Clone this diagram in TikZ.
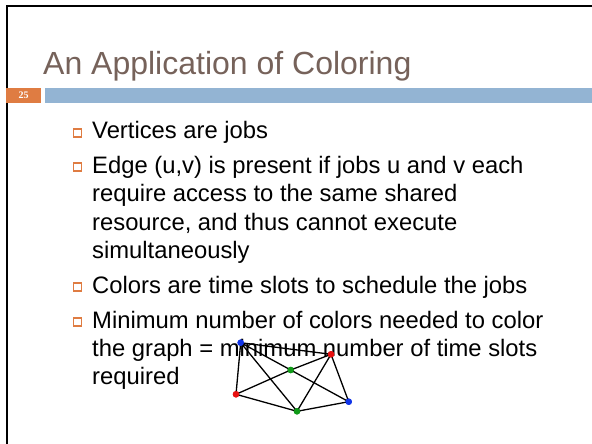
\documentclass[tikz,border=0pt]{standalone}
\usepackage{fontspec}
\setmainfont{Liberation Sans}
\newfontfamily\numfont{Liberation Serif}
\definecolor{titlegray}{HTML}{76625A}
\definecolor{slideorange}{HTML}{DF7C42}
\definecolor{slideblue}{HTML}{93B4D3}
\definecolor{vblue}{HTML}{1034E8}
\definecolor{vred}{HTML}{E81010}
\definecolor{vgreen}{HTML}{109A18}
\begin{document}
\begin{tikzpicture}[x=1pt,y=-1pt,
  bodytext/.style={anchor=base west, inner sep=0pt, font=\fontsize{23.8}{28}\selectfont},
  bulletbox/.style={draw=slideorange, line width=1.2pt, minimum size=8pt, inner sep=0pt},
  vertex/.style={circle, inner sep=0pt, minimum size=6.5pt},
  gedge/.style={line width=1.3pt}]
\useasboundingbox (0,0) rectangle (592,444);
\fill[white] (0,0) rectangle (592,444);
% slide frame
\draw[line width=2pt] (7,444) -- (7,6) -- (592,6);
% title
\node[anchor=base west, inner sep=0pt, text=titlegray, font=\fontsize{32}{38}\selectfont] (title) at (43,75) {An Application of Coloring};
% page number tab and rule
\fill[slideorange] (6,88) rectangle (41,103);
\node[text=white, font=\numfont\bfseries\fontsize{10}{11}\selectfont, inner sep=0pt] (pnum) at (23.5,95.5) {25};
\fill[slideblue] (45,88) rectangle (592,103);
% bullets
\foreach \y/\n in {139/b1, 173/b2, 293/b3, 328/b4}
  \node[bulletbox] (\n) at (77.5,\y-6) {};
\node[bodytext] (t1) at (92,139) {Vertices are jobs};
\node[bodytext] (t2) at (92,173) {Edge (u,v) is present if jobs u and v each};
\node[bodytext] (t3) at (92,201.5) {require access to the same shared};
\node[bodytext] (t4) at (92,230) {resource, and thus cannot execute};
\node[bodytext] (t5) at (92,258.5) {simultaneously};
\node[bodytext] (t6) at (92,293) {Colors are time slots to schedule the jobs};
\node[bodytext] (t7) at (92,328) {Minimum number of colors needed to color};
\node[bodytext] (t8) at (92,356) {the graph = minimum number of time slots};
\node[bodytext] (t9) at (92,384) {required};
% conflict graph
\node[vertex, fill=vblue] (v1) at (240.7,342.7) {};
\node[vertex, fill=vred] (v2) at (331,354.3) {};
\node[vertex, fill=vgreen] (v3) at (290.7,370) {};
\node[vertex, fill=vred] (v4) at (236,394.3) {};
\node[vertex, fill=vgreen] (v5) at (297,411.3) {};
\node[vertex, fill=vblue] (v6) at (348.7,401.7) {};
\draw[gedge] (v1.center) -- (v2.center)
  (v1.center) -- (v3.center)
  (v1.center) -- (v4.center)
  (v1.center) -- (v5.center)
  (v2.center) -- (v3.center)
  (v2.center) -- (v5.center)
  (v2.center) -- (v6.center)
  (v3.center) -- (v4.center)
  (v3.center) -- (v6.center)
  (v4.center) -- (v5.center)
  (v5.center) -- (v6.center);
\foreach \v/\c in {v1/vblue, v2/vred, v3/vgreen, v4/vred, v5/vgreen, v6/vblue}
  \fill[\c] (\v) circle (3.25pt);
\end{tikzpicture}
\end{document}
